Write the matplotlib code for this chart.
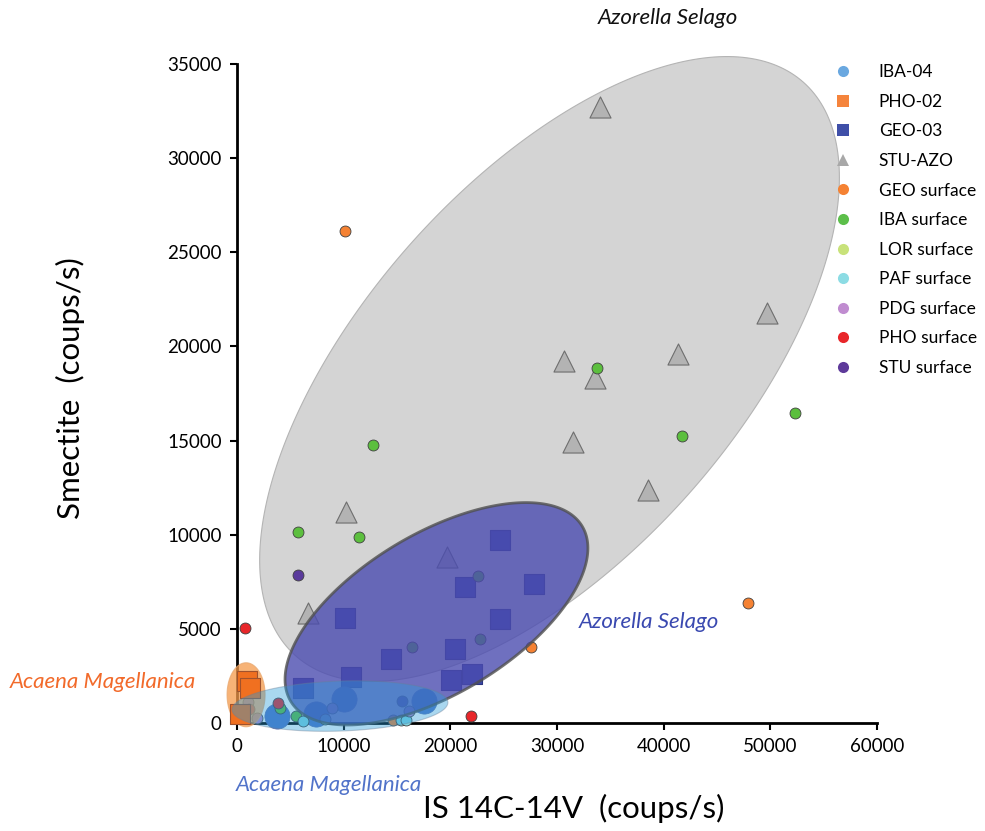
import numpy as np
import matplotlib.pyplot as plt
from matplotlib.lines import Line2D
from matplotlib.patches import Polygon

plt.rcParams['font.family'] = ['Lato', 'DejaVu Sans']

# --- valeurs (coups/s) ---
iba04_x = [3750, 7400, 10000, 17500]
iba04_y = [370, 480, 1270, 1170]

pho02_x = [900, 1200, 250]
pho02_y = [2250, 1850, 500]

geo03_x = [24700, 27800, 21400, 10100, 24700, 20400, 14400, 22000, 20100, 10700, 6200]
geo03_y = [9700, 7400, 7200, 5600, 5500, 3950, 3400, 2600, 2300, 2450, 1850]

stu_azo_x = [34000, 49700, 41300, 30700, 33600, 31500, 38500, 10200, 19700, 6700]
stu_azo_y = [32700, 21800, 19600, 19200, 18300, 14900, 12400, 11200, 8800, 5850]

geo_surf_x = [10100, 47900, 27600, 14600]
geo_surf_y = [26150, 6350, 4050, 170]

iba_surf_x = [33750, 41700, 52300, 12750, 5700, 11450, 22600, 22800, 16400, 4050, 5550]
iba_surf_y = [18850, 15250, 16450, 14750, 10150, 9900, 7800, 4450, 4050, 800, 370]

lor_surf_x = []
lor_surf_y = []

paf_surf_x = [6200, 8250, 15400, 15850]
paf_surf_y = [100, 210, 160, 160]

pdg_surf_x = [16100, 8900, 1900, 1050]
pdg_surf_y = [640, 800, 270, 1100]

pho_surf_x = [750, 21950, 3850, 1150]
pho_surf_y = [5050, 380, 1050, 750]

stu_surf_x = [5700, 15450]
stu_surf_y = [7850, 1170]

# zones (centre en coups/s, demi-axes en pixels, angle en degres)
zone_azo_gris = dict(center=(29300, 18800), a=383, b=187, angle=48.5)
zone_azo_bleu = dict(center=(18700, 5800), a=170, b=80, angle=31)
zone_aca_bleu = dict(center=(9650, 900), a=108, b=25, angle=2)
zone_aca_orange = dict(center=(850, 1500), a=19, b=32, angle=0)

W, H = 985, 831
fig = plt.figure(figsize=(W / 100, H / 100), dpi=100)
ax = fig.add_axes([237 / W, 1 - 723 / H, 640 / W, 659 / H])
ax.set_xlim(0, 60000)
ax.set_ylim(0, 35000)


def zone(ax, center, a, b, angle, **kw):
    cx, cy = ax.transData.transform(center)
    t = np.linspace(0, 2 * np.pi, 300)
    th = np.radians(angle)
    ex, ey = a * np.cos(t), b * np.sin(t)
    px = cx + ex * np.cos(th) - ey * np.sin(th)
    py = cy + ex * np.sin(th) + ey * np.cos(th)
    pts = ax.transData.inverted().transform(np.column_stack([px, py]))
    ax.add_patch(Polygon(pts, closed=True, clip_on=False, **kw))


zone(ax, **zone_azo_gris, facecolor='#d4d4d4', edgecolor='#b4b4b4', lw=0.8, zorder=1)

pts = dict(clip_on=False, zorder=2)
ax.scatter(stu_azo_x, stu_azo_y, marker='^', s=230, c='#b3b3b3', edgecolors='#6e6e6e', linewidths=0.8, **pts)
ax.scatter(geo03_x, geo03_y, marker='s', s=190, c='#3a48a8', edgecolors='#2c3580', linewidths=0.8, **pts)
ax.scatter(iba04_x, iba04_y, marker='o', s=330, c='#4f74c8', edgecolors='#5a70b0', linewidths=0.5, **pts)

small = dict(marker='o', s=62, linewidths=0.6, edgecolors='#404040', clip_on=False, zorder=2)
ax.scatter(geo_surf_x, geo_surf_y, c='#f58233', **small)
ax.scatter(iba_surf_x, iba_surf_y, c='#5cbf3e', **small)
ax.scatter(paf_surf_x, paf_surf_y, c='#7fd6e2', **small)
ax.scatter(pdg_surf_x, pdg_surf_y, c='#b88ad0', **small)
ax.scatter(pho_surf_x, pho_surf_y, c='#e8262a', **small)
ax.scatter(stu_surf_x, stu_surf_y, c='#5a3a9c', **small)

zone(ax, **zone_azo_bleu, facecolor='#4b4cb0', alpha=0.8, edgecolor='#505050', lw=2, zorder=3)
zone(ax, **zone_aca_orange, facecolor='#f59a4a', alpha=0.75, edgecolor='#e8a870', lw=0.8, zorder=3.5)
ax.scatter(pho02_x, pho02_y, marker='s', s=190, c='#f07020', edgecolors='#a0522d', linewidths=0.8,
           clip_on=False, zorder=3.6)
zone(ax, **zone_aca_bleu, facecolor='#2a9bd9', alpha=0.4, edgecolor='#6a7f95', lw=0.8, zorder=4)

# axes
for s in ['top', 'right']:
    ax.spines[s].set_visible(False)
for s in ['left', 'bottom']:
    ax.spines[s].set_linewidth(2)
    ax.spines[s].set_zorder(1.5)
ax.set_xticks(np.arange(0, 60001, 10000))
ax.set_yticks(np.arange(0, 35001, 5000))
ax.tick_params(direction='out', length=5, width=1.5, labelsize=13.5, pad=6)

ax.set_xlabel('IS 14C-14V  (coups/s)', fontsize=22.5)
ax.xaxis.set_label_coords((574 - 237) / 640, (723 - 808) / 659)
ax.xaxis.label.set_va('center')
ax.set_ylabel('Smectite  (coups/s)', fontsize=22.5)
ax.yaxis.set_label_coords((70 - 237) / 640, (723 - 388) / 659)
ax.yaxis.label.set_va('center')

# etiquettes des zones
def label(x, y, txt, color):
    fig.text(x / W, 1 - y / H, txt, color=color, fontsize=16, style='italic', ha='center', va='center')

label(668, 18, 'Azorella Selago', '#111111')
label(649, 622, 'Azorella Selago', '#3a49b0')
label(103, 682, 'Acaena Magellanica', '#f26a2a')
label(329, 785, 'Acaena Magellanica', '#5173c9')

# legende
legend_items = [
    ('IBA-04', 'o', '#6aa8e0'),
    ('PHO-02', 's', '#f5843c'),
    ('GEO-03', 's', '#3f4fa8'),
    ('STU-AZO', '^', '#a8a8a8'),
    ('GEO surface', 'o', '#f58233'),
    ('IBA surface', 'o', '#5cbf4a'),
    ('LOR surface', 'o', '#c8e27a'),
    ('PAF surface', 'o', '#8cdce4'),
    ('PDG surface', 'o', '#c08cd0'),
    ('PHO surface', 'o', '#e8262a'),
    ('STU surface', 'o', '#5e3a9a'),
]
handles = [Line2D([], [], ls='none', marker=m, color=c, markersize=8, markeredgewidth=0, label=l)
           for l, m, c in legend_items]
ax.legend(handles=handles, loc='upper left', bbox_to_anchor=(0.909, 1.010), frameon=False,
          fontsize=12.5, labelspacing=0.78, handletextpad=1.05, borderaxespad=0)

fig.savefig('out.png', dpi=100)
